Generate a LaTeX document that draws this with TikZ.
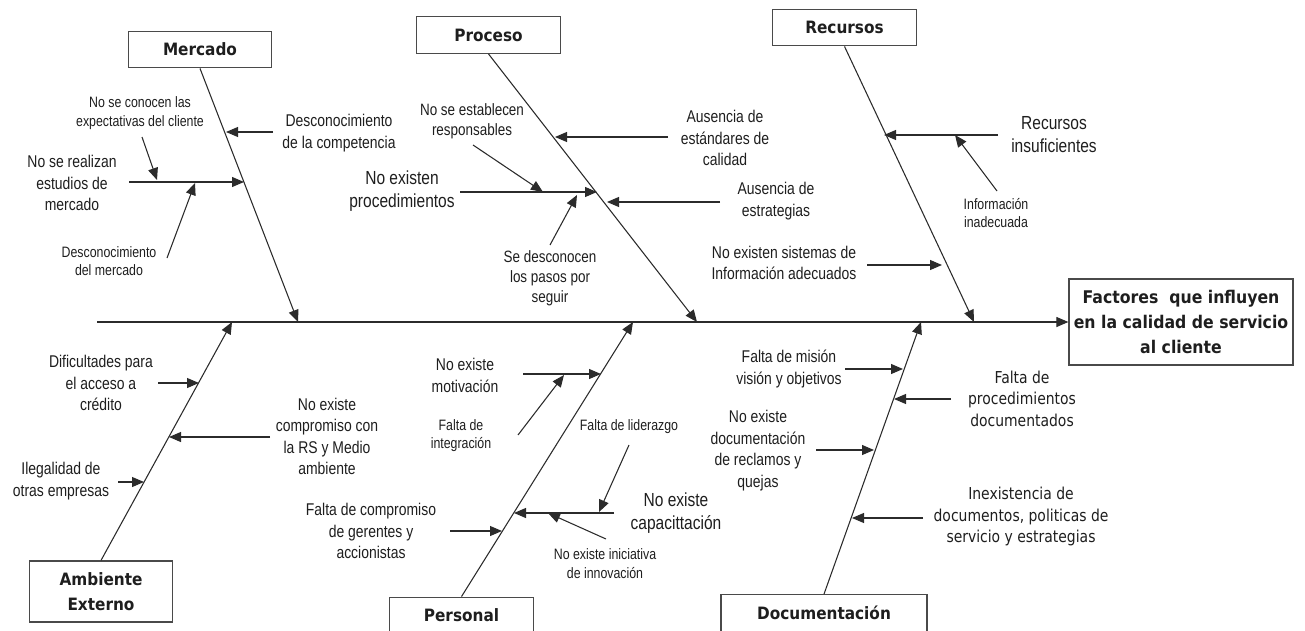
\documentclass[tikz,border=0pt]{standalone}
\usepackage{fontspec}
\setmainfont{Liberation Sans}
\newfontfamily\narrowfont[FakeStretch=0.82]{Liberation Sans}
\newfontfamily\tahomafont[FakeStretch=0.85]{DejaVu Sans}
\newfontfamily\headfont[FakeStretch=0.9]{DejaVu Sans}
\usetikzlibrary{arrows.meta, positioning, calc}
\definecolor{lineGray}{HTML}{2B2B2B}
\definecolor{boxGray}{HTML}{4A4A4A}
\definecolor{textGray}{HTML}{1E1E1E}

\begin{document}
\begin{tikzpicture}[
    x=0.75pt, y=-0.75pt,
    every node/.style={align=center, inner sep=0pt, text=textGray},
    category/.style={
        rectangle, draw=boxGray, line width=0.9pt, fill=white,
        font=\headfont\bfseries\fontsize{12.75}{18.75}\selectfont,
        minimum width=107.5pt, minimum height=27.5pt
    },
    effect/.style={
        rectangle, draw=boxGray, line width=0.9pt,
        font=\headfont\bfseries\fontsize{13.1}{18.4}\selectfont,
        minimum width=168pt, minimum height=64.5pt
    },
    causeS/.style={font=\narrowfont\fontsize{11.3}{13.9}\selectfont},
    causeM/.style={font=\narrowfont\fontsize{12.3}{15}\selectfont},
    cause/.style={font=\narrowfont\fontsize{12.75}{16.1}\selectfont},
    causeL/.style={font=\narrowfont\fontsize{14.2}{17.2}\selectfont},
    causeT/.style={font=\tahomafont\fontsize{12.3}{16.1}\selectfont},
    bone/.style={draw=lineGray, line width=0.8pt},
    arrow/.style={bone, -{Triangle[length=9pt, width=7.5pt]}},
]
\useasboundingbox (0,0) rectangle (1305,631);

% === EFFECT AND SPINE ===
\node[effect] (effect) at (1181,322) {Factores\ \ que influyen\\en la calidad de servicio\\al cliente};
\coordinate (spine) at (97,322);
\draw[arrow] (spine) -- (effect.west);

% === CATEGORY BOXES ===
\node[category] (mercado) at (200,49.5) {Mercado};
\node[category] (proceso) at (488.5,35) {Proceso};
\node[category] (recursos) at (844.5,27.5) {Recursos};
\node[category, minimum height=45.75pt] (ambiente) at (101,591.5) {Ambiente\\Externo};
\node[category] (personal) at (461.5,615.5) {Personal};
\node[category, minimum width=154.5pt] (documentacion) at (824,613) {Documentación};

% === MAIN BONES ===
\coordinate (mTip) at (298,322);
\coordinate (pTip) at (697,322);
\coordinate (rTip) at (974,322);
\coordinate (aTip) at (232,322);
\coordinate (peTip) at (633,322);
\coordinate (dTip) at (921,322);
\draw[arrow] (mercado.south) -- (mTip);
\draw[arrow] (proceso.south) -- (pTip);
\draw[arrow] (recursos.south) -- (rTip);
\draw[arrow] (ambiente.north) -- (aTip);
\draw[arrow] (personal.north) -- (peTip);
\draw[arrow] (documentacion.north) -- (dTip);

% --- Mercado ---
\node[cause] (mComp) at (339,133) {Desconocimiento\\de la competencia};
\node[cause] (mEst) at (72,183) {No se realizan\\estudios de\\mercado};
\node[causeS] (mExp) at (140,113) {No se conocen las\\expectativas del cliente};
\node[causeS] (mMer) at (109,261) {Desconocimiento\\del mercado};
\coordinate (mCompA) at (273,132);  \coordinate (mCompB) at (226,132);
\coordinate (mEstA) at (129,182);   \coordinate (mEstB) at (244,182);
\coordinate (mExpA) at (142,137);   \coordinate (mExpB) at (157,180);
\coordinate (mMerA) at (167,258);   \coordinate (mMerB) at (195,183);
\draw[arrow] (mCompA) -- (mCompB);
\draw[arrow] (mEstA) -- (mEstB);
\draw[arrow] (mExpA) -- (mExpB);
\draw[arrow] (mMerA) -- (mMerB);

% --- Proceso ---
\node[cause] (pEst) at (725,138) {Ausencia de\\estándares de\\calidad};
\node[causeL] (pProc) at (402,191) {No existen\\procedimientos};
\node[causeM] (pResp) at (472,121) {No se establecen\\responsables};
\node[causeM] (pPasos) at (550,278) {Se desconocen\\los pasos por\\seguir};
\node[cause] (pEstr) at (776,201) {Ausencia de\\estrategias};
\coordinate (pEstA) at (668,137);   \coordinate (pEstB) at (555,137);
\coordinate (pProcA) at (460,192);  \coordinate (pProcB) at (597,192);
\coordinate (pRespA) at (473,145);  \coordinate (pRespB) at (543,192);
\coordinate (pPasosA) at (550,245); \coordinate (pPasosB) at (577,195);
\coordinate (pEstrA) at (720,202);  \coordinate (pEstrB) at (607,202);
\draw[arrow] (pEstA) -- (pEstB);
\draw[arrow] (pProcA) -- (pProcB);
\draw[arrow] (pRespA) -- (pRespB);
\draw[arrow] (pPasosA) -- (pPasosB);
\draw[arrow] (pEstrA) -- (pEstrB);

% --- Recursos ---
\node[causeL] (rIns) at (1054,135) {Recursos\\insuficientes};
\node[causeS] (rInfo) at (996,213) {Información\\inadecuada};
\node[cause] (rSis) at (784,263) {No existen sistemas de\\Información adecuados};
\coordinate (rInsA) at (998,135);   \coordinate (rInsB) at (884,135);
\coordinate (rInfoA) at (997,191);  \coordinate (rInfoB) at (955,135);
\coordinate (rSisA) at (867,265);   \coordinate (rSisB) at (942,265);
\draw[arrow] (rInsA) -- (rInsB);
\draw[arrow] (rInfoA) -- (rInfoB);
\draw[arrow] (rSisA) -- (rSisB);

% --- Ambiente Externo ---
\node[cause] (aCred) at (101,383) {Dificultades para\\el acceso a\\crédito};
\node[cause] (aRs) at (327,436.5) {No existe\\compromiso con\\la RS y Medio\\ambiente};
\node[cause] (aIleg) at (61,481) {Ilegalidad de\\otras empresas};
\coordinate (aCredA) at (158,383);  \coordinate (aCredB) at (199,383);
\coordinate (aRsA) at (270,437);    \coordinate (aRsB) at (169,437);
\coordinate (aIlegA) at (118,482);  \coordinate (aIlegB) at (144,482);
\draw[arrow] (aCredA) -- (aCredB);
\draw[arrow] (aRsA) -- (aRsB);
\draw[arrow] (aIlegA) -- (aIlegB);

% --- Personal ---
\node[cause] (peMot) at (465,375.5) {No existe\\motivación};
\node[causeS] (peInt) at (461,435.5) {Falta de\\integración};
\node[cause] (peComp) at (371,531) {Falta de compromiso\\de gerentes y\\accionistas};
\node[causeL] (peCap) at (676,513.5) {No existe\\capacittación};
\node[causeS] (peLid) at (629,427) {Falta de liderazgo};
\node[causeS] (peInn) at (605,563.5) {No existe iniciativa\\de innovación};
\coordinate (peMotA) at (523,374);  \coordinate (peMotB) at (601,374);
\coordinate (peIntA) at (518,435);  \coordinate (peIntB) at (564,375);
\coordinate (peCompA) at (450,531); \coordinate (peCompB) at (502,531);
\coordinate (peCapA) at (614,513);  \coordinate (peCapB) at (514,513);
\coordinate (peLidA) at (629,445);  \coordinate (peLidB) at (599,512);
\coordinate (peInnA) at (606,539);  \coordinate (peInnB) at (548,513);
\draw[arrow] (peMotA) -- (peMotB);
\draw[arrow] (peIntA) -- (peIntB);
\draw[arrow] (peCompA) -- (peCompB);
\draw[arrow] (peCapA) -- (peCapB);
\draw[arrow] (peLidA) -- (peLidB);
\draw[arrow] (peInnA) -- (peInnB);

% --- Documentacion ---
\node[cause] (dMis) at (789,369) {Falta de misión\\visión y objetivos};
\node[causeT] (dProc) at (1022,398.5) {Falta de\\procedimientos\\documentados};
\node[cause] (dDoc) at (758,450.5) {No existe\\documentación\\de reclamos y\\quejas};
\node[causeT] (dInex) at (1021,516.5) {Inexistencia de\\documentos, politicas de\\servicio y estrategias};
\coordinate (dMisA) at (845,369);   \coordinate (dMisB) at (903,369);
\coordinate (dProcA) at (951,399);  \coordinate (dProcB) at (894,399);
\coordinate (dDocA) at (816,450);   \coordinate (dDocB) at (874,450);
\coordinate (dInexA) at (923,518);  \coordinate (dInexB) at (852,518);
\draw[arrow] (dMisA) -- (dMisB);
\draw[arrow] (dProcA) -- (dProcB);
\draw[arrow] (dDocA) -- (dDocB);
\draw[arrow] (dInexA) -- (dInexB);
\end{tikzpicture}
\end{document}
